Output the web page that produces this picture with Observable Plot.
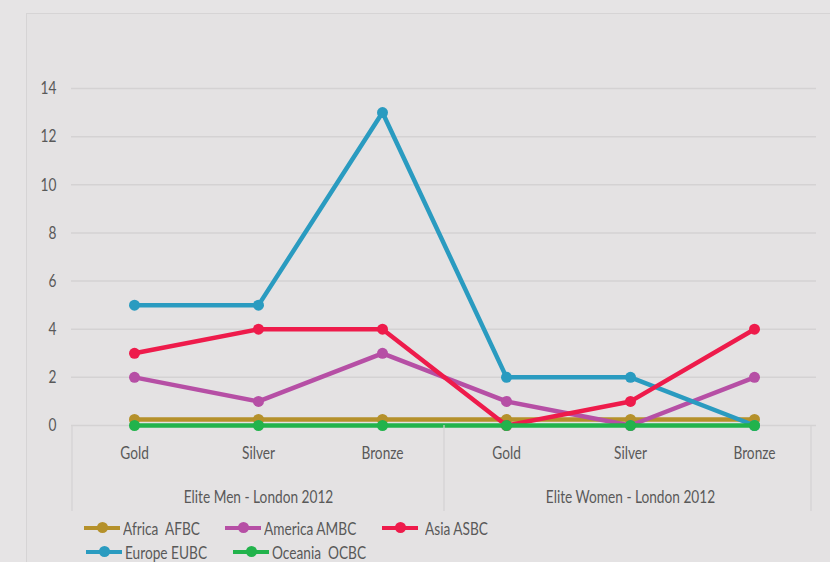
<!DOCTYPE html>
<html><head><meta charset="utf-8">
<script src="https://cdn.jsdelivr.net/npm/d3@7"></script>
<script src="https://cdn.jsdelivr.net/npm/@observablehq/plot@0.6"></script>
<style>
html,body{margin:0;padding:0;background:#e6e4e5;width:830px;height:562px;overflow:hidden;font-family:Lato,sans-serif;}
#wrap{position:relative;width:830px;height:562px;}
#frame{position:absolute;left:26px;top:13px;width:820px;height:560px;border:1.5px solid #d6d4d5;background:#e4e2e3;}
#chart{position:absolute;left:0;top:0;}
#legend{position:absolute;left:0;top:0;width:830px;height:562px;font-size:18px;color:#595959;}
.item{position:absolute;display:flex;align-items:center;white-space:pre;height:24px;}
.sw{position:relative;width:36px;height:4.5px;margin-right:3px;}
.sw i{position:absolute;left:12.5px;top:-3.5px;width:11px;height:11px;border-radius:50%;}
.item span{display:inline-block;transform:scaleX(0.76);transform-origin:left center;}
</style></head>
<body><div id="wrap"><div id="frame"></div><div id="chart"></div><div id="legend"></div></div>
<script>
const categories = ["Gold", "Silver", "Bronze"];
const groups = ["Elite Men - London 2012", "Elite Women - London 2012"];
const seriesNames = ["Africa  AFBC", "America AMBC", "Asia ASBC", "Europe EUBC", "Oceania  OCBC"];
const seriesColors = ["#b5912b", "#b64fa5", "#ee1b4b", "#2a9bc0", "#22b34c"];
const africa  = [0.25, 0.25, 0.25, 0.25, 0.25, 0.25];
const america = [2, 1, 3, 1, 0, 2];
const asia    = [3, 4, 4, 0, 1, 4];
const europe  = [5, 5, 13, 2, 2, 0];
const oceania = [0, 0, 0, 0, 0, 0];
const yTicks = [0, 2, 4, 6, 8, 10, 12, 14];

const seriesValues = [africa, america, asia, europe, oceania];
const drawOrder = [0, 1, 3, 2, 4];
const keys = groups.flatMap((g, gi) => categories.map(c => gi + "|" + c));
const rows = seriesNames.map((s, si) => seriesValues[si].map((v, i) => ({series: s, key: keys[i], value: v})));

const font = 'Lato,sans-serif';
const chart = Plot.plot({
  width: 830, height: 562,
  marginLeft: 71, marginRight: 14, marginTop: 88, marginBottom: 137,
  style: {background: "transparent", fontSize: "18px", fontFamily: font, color: "#595959"},
  x: {type: "point", domain: keys, padding: 0.5, tickSize: 0, tickPadding: 21, tickFormat: d => d.split("|")[1], label: null},
  y: {domain: [0, 14], ticks: yTicks, tickSize: 0, tickPadding: 15, label: null},
  color: {domain: seriesNames, range: seriesColors},
  marks: [
    Plot.ruleY(yTicks, {stroke: "#d4d2d3", strokeWidth: 1.5}),
    ...drawOrder.flatMap(si => [
      Plot.line(rows[si], {x: "key", y: "value", stroke: "series", strokeWidth: 4.5}),
      Plot.dot(rows[si], {x: "key", y: "value", fill: "series", r: 5.5})
    ]),
    Plot.text(groups, {x: (g, i) => keys[i * 3 + 1], y: () => 0, text: d => d, dy: 72, fontSize: 18, fill: "#595959"})
  ]
});
document.getElementById("chart").appendChild(chart);

// narrow the glyphs horizontally, like the reference's condensed type
chart.querySelectorAll("text").forEach(t => {
  const L = t.getComputedTextLength();
  if (L > 0) {
    t.setAttribute("textLength", (L * 0.76).toFixed(2));
    t.setAttribute("lengthAdjust", "spacingAndGlyphs");
  }
});

// category group separator lines
const xs = chart.scale("x"), ys = chart.scale("y");
const step = xs.apply(keys[1]) - xs.apply(keys[0]);
const y0 = ys.apply(0);
const bounds = [xs.apply(keys[0]) - step / 2, xs.apply(keys[2]) + step / 2, xs.apply(keys[5]) + step / 2 - 5];
const sel = d3.select(chart);
bounds.forEach(bx => sel.append("line").attr("x1", bx).attr("x2", bx).attr("y1", y0).attr("y2", y0 + 86)
  .attr("stroke", "#d4d2d3").attr("stroke-width", 1.2));

// legend
const legend = d3.select("#legend");
const legendPos = [[84, 516], [225, 516], [382, 516], [86, 540], [233, 540]];
seriesNames.forEach((s, si) => {
  const it = legend.append("div").attr("class", "item")
    .style("left", legendPos[si][0] + "px").style("top", legendPos[si][1] + "px");
  const sw = it.append("div").attr("class", "sw").style("background", seriesColors[si]);
  sw.append("i").style("background", seriesColors[si]);
  it.append("span").text(s).style("margin-left", si === 2 ? "4px" : "0px");
});
</script></body></html>
